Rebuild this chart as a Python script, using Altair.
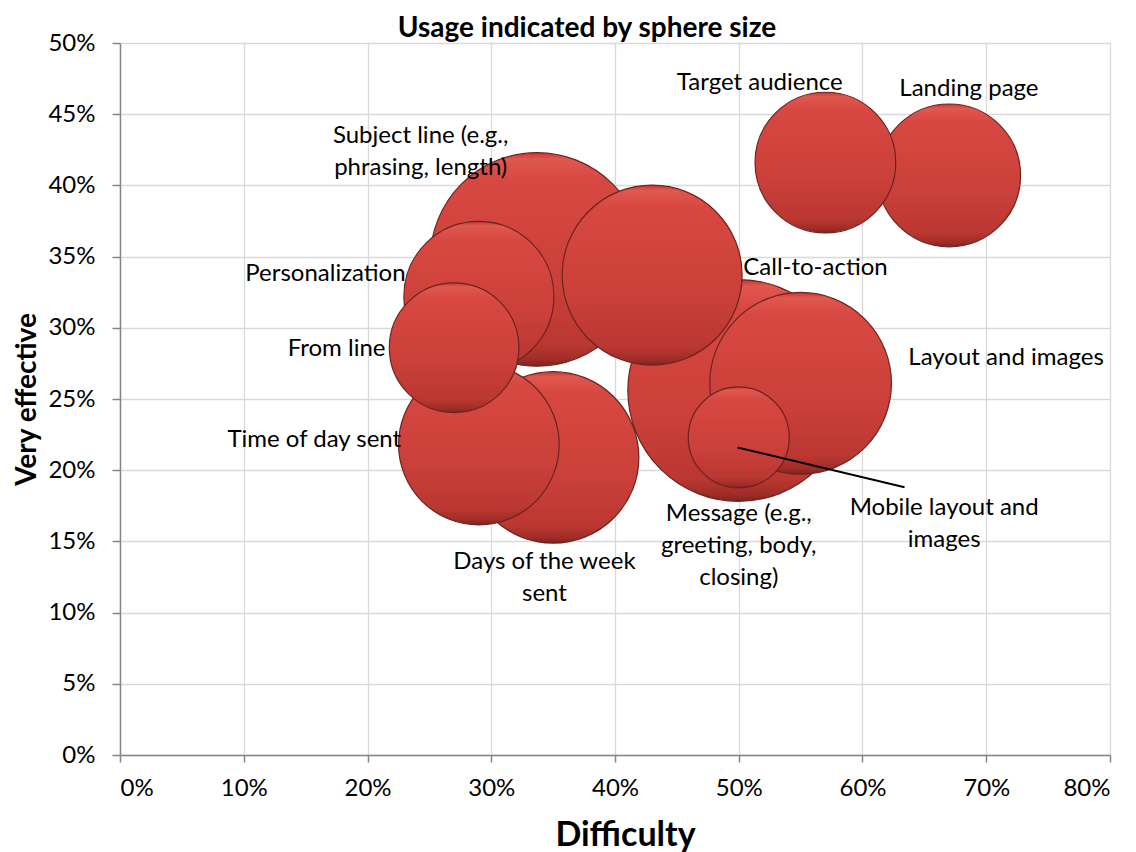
import altair as alt
import pandas as pd

# Bubble data (fractions)
names = ["Landing page", "Target audience", "Message", "Days of the week", "Time of day sent",
         "Subject line", "Personalization", "From line", "Call-to-action",
         "Layout and images", "Mobile layout and images"]
difficulty = [0.67, 0.57, 0.50, 0.35, 0.29, 0.337, 0.29, 0.27, 0.43, 0.55, 0.50]
very_effective = [0.407, 0.416, 0.256, 0.209, 0.218, 0.348, 0.322, 0.286, 0.337, 0.261, 0.223]
usage = [34, 33, 82, 49, 43, 76, 37.5, 28, 54, 55, 17]

# Data labels (y = first text line)
label_text = ["Landing page", "Target audience", "Message (e.g.,\ngreeting, body,\nclosing)",
              "Days of the week\nsent", "Time of day sent", "Subject line (e.g.,\nphrasing, length)",
              "Personalization", "From line", "Call-to-action", "Layout and images",
              "Mobile layout and\nimages"]
label_x = [0.686, 0.517, 0.500, 0.343, 0.157, 0.243, 0.166, 0.175, 0.562, 0.716, 0.666]
label_y = [0.468, 0.472, 0.169, 0.1355, 0.221, 0.435, 0.338, 0.285, 0.342, 0.279, 0.1735]

# Leader line for the mobile label
leader_x = [0.499]
leader_y = [0.216]
leader_x2 = [0.634]
leader_y2 = [0.188]

x_ticks = [0, 0.1, 0.2, 0.3, 0.4, 0.5, 0.6, 0.7, 0.8]
y_ticks = [0, 0.05, 0.1, 0.15, 0.2, 0.25, 0.3, 0.35, 0.4, 0.45, 0.5]

FONT = "Lato"

bubbles_df = pd.DataFrame({"name": names, "difficulty": difficulty,
                           "effective": very_effective, "usage": usage,
                           "order": list(range(len(names)))})
labels_df = pd.DataFrame({"text": label_text, "lx": label_x, "ly": label_y})
leader_df = pd.DataFrame({"x": leader_x, "y": leader_y, "x2": leader_x2, "y2": leader_y2})

xscale = alt.Scale(domain=[0, 0.8], nice=False)
yscale = alt.Scale(domain=[0, 0.5], nice=False)

xaxis = alt.Axis(title="Difficulty", format=".0%", values=x_ticks, grid=True,
                 gridColor="#d9d9d9", gridWidth=1.3, domainColor="#868686", domainWidth=1.5,
                 tickColor="#868686", tickSize=7, tickWidth=1.5, labelPadding=14,
                 labelFont=FONT, labelFontSize=24, labelColor="#000000",
                 titleFont=FONT, titleFontSize=34, titleFontWeight="bold", titleColor="#000000",
                 titlePadding=18, titleX=505, titleAlign="center")
yaxis = alt.Axis(title="Very effective", format=".0%", values=y_ticks, grid=True,
                 gridColor="#d9d9d9", gridWidth=1.3, domainColor="#868686", domainWidth=1.5,
                 tickColor="#868686", tickSize=8, tickWidth=1.5, labelPadding=17,
                 labelFont=FONT, labelFontSize=24, labelColor="#000000",
                 titleFont=FONT, titleFontSize=28, titleFontWeight="bold", titleColor="#000000",
                 titlePadding=6)

grad = alt.LinearGradient(
    gradient="linear", x1=0, x2=0, y1=0, y2=1,
    stops=[alt.GradientStop(offset=0, color="#c03a34"),
           alt.GradientStop(offset=0.03, color="#e05850"),
           alt.GradientStop(offset=0.12, color="#d84842"),
           alt.GradientStop(offset=0.6, color="#cb403a"),
           alt.GradientStop(offset=0.9, color="#bb3731"),
           alt.GradientStop(offset=0.97, color="#a02c27"),
           alt.GradientStop(offset=1, color="#7e2220")])

bubbles = alt.Chart(bubbles_df).mark_circle(
    fill=grad, opacity=1, stroke="#6b2420", strokeWidth=1.2
).encode(
    x=alt.X("difficulty:Q", scale=xscale, axis=xaxis),
    y=alt.Y("effective:Q", scale=yscale, axis=yaxis),
    size=alt.Size("usage:Q", scale=alt.Scale(domain=[0, 100], range=[0, 60000], zero=True),
                  legend=None),
    order=alt.Order("order:Q"),
)

leader = alt.Chart(leader_df).mark_rule(color="#000000", strokeWidth=2).encode(
    x=alt.X("x:Q", scale=xscale), y=alt.Y("y:Q", scale=yscale),
    x2="x2:Q", y2="y2:Q")

labels = alt.Chart(labels_df).mark_text(
    font=FONT, fontSize=24, color="#000000", align="center", baseline="middle",
    lineBreak="\n", lineHeight=32
).encode(
    x=alt.X("lx:Q", scale=xscale), y=alt.Y("ly:Q", scale=yscale), text="text:N")

chart = alt.layer(bubbles, leader, labels).properties(
    width=990, height=712,
    title=alt.TitleParams("Usage indicated by sphere size", font=FONT, fontSize=28,
                          fontWeight="bold", color="#000000", anchor="middle", dx=-28,
                          offset=-12),
    autosize=alt.AutoSizeParams(type="none"),
    padding={"left": 112, "top": 35, "right": 18, "bottom": 105},
).configure_view(stroke=None)

chart.save("out.html", embed_options={"renderer": "svg", "actions": False})
